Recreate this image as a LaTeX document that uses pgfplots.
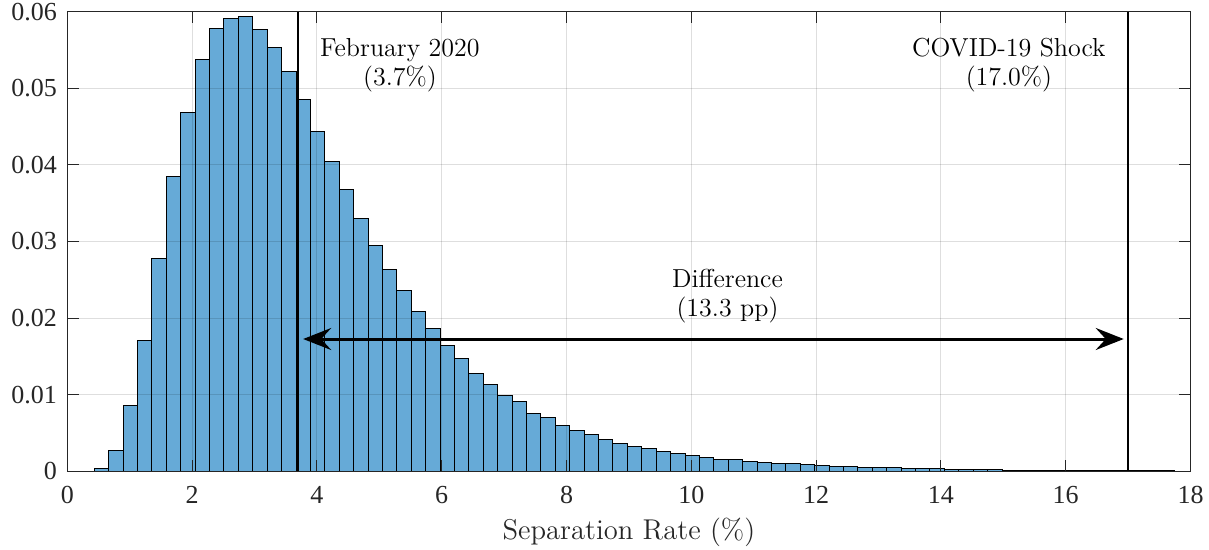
\documentclass[border=0pt]{standalone}
\usepackage{fontspec}
\usepackage{pgfplots}
\pgfplotsset{compat=1.18}
\usetikzlibrary{arrows.meta}
\newfontfamily\timesf{Liberation Serif}
\definecolor{barblue}{RGB}{102,170,215}
\definecolor{axgray}{RGB}{38,38,38}
\pgfplotstableread{
x y
0.202 0.00001
0.433 0.00043
0.664 0.00274
0.895 0.00853
1.126 0.0171
1.357 0.02776
1.588 0.03842
1.819 0.04678
2.050 0.05379
2.280 0.05778
2.511 0.05914
2.742 0.05935
2.973 0.05765
3.204 0.0553
3.435 0.05213
3.666 0.0486
3.897 0.04439
4.128 0.04042
4.359 0.03676
4.589 0.03298
4.820 0.0295
5.051 0.02628
5.282 0.02354
5.513 0.02089
5.744 0.01867
5.975 0.0164
6.206 0.01475
6.436 0.01283
6.667 0.01138
6.898 0.00987
7.129 0.00905
7.360 0.00761
7.591 0.0070
7.822 0.00595
8.053 0.00535
8.284 0.00474
8.515 0.00413
8.745 0.00369
8.976 0.0033
9.207 0.00295
9.438 0.00256
9.669 0.00226
9.900 0.00209
10.131 0.00183
10.362 0.00157
10.593 0.00148
10.824 0.0013
11.054 0.00117
11.285 0.001
11.516 0.00098
11.747 0.00086
11.978 0.00073
12.209 0.0006
12.440 0.00058
12.671 0.00055
12.902 0.00047
13.133 0.00046
13.363 0.00034
13.594 0.00032
13.825 0.0003
14.056 0.00028
14.287 0.00021
14.518 0.0002
14.749 0.00018
14.980 0.00016
15.211 0.00014
15.442 0.00013
15.672 0.00012
15.903 0.0001
16.134 0.00009
16.365 0.00008
16.596 0.00007
16.827 0.00006
17.058 0.00005
17.289 0.00005
17.520 0.00004
17.751 0.00003
17.982 0
}\histdata
\begin{document}
\begin{tikzpicture}
\useasboundingbox (-33.65pt,-39.35pt) rectangle (570.85pt,235.65pt);
\begin{axis}[
  scale only axis, width=561.6pt, height=229.8pt,
  xmin=0, xmax=18, ymin=0, ymax=0.06,
  xtick={0,2,4,6,8,10,12,14,16,18},
  xticklabels={0,2,4,6,8,10,12,14,16,18},
  ytick={0,0.01,0.02,0.03,0.04,0.05,0.06},
  yticklabels={0,0.01,0.02,0.03,0.04,0.05,0.06},
  tick align=inside, major tick length=5.6pt,
  grid=major,
  major grid style={draw=black, opacity=0.13, line width=0.5pt},
  axis line style={draw=axgray, line width=0.5pt},
  every tick/.style={draw=axgray, line width=0.5pt},
  tick label style={font=\timesf\fontsize{13}{15}\selectfont, text=axgray},
  yticklabel style={xshift=-1.7pt},
  xticklabel style={yshift=-4pt},
  xlabel={Separation Rate (\%)},
  xlabel style={font=\fontsize{14.3}{16}\selectfont, text=axgray},
  axis on top,
]
\addplot[ybar interval, fill=barblue, draw=black, line width=0.5pt] table[x=x,y=y] {\histdata};
\addplot[black, line width=1.3pt] coordinates {(3.7,0) (3.7,0.06)};
\addplot[black, line width=1.3pt] coordinates {(17.0,0) (17.0,0.06)};
\draw[{Stealth[length=14pt,width=11pt,inset=5pt]}-{Stealth[length=14pt,width=11pt,inset=5pt]}, line width=1.5pt]
  (axis cs:3.78,0.01727) -- (axis cs:16.93,0.01727);
\node[anchor=north, align=center, inner sep=0pt, font=\fontsize{13}{14.5}\selectfont] at (axis cs:5.33,0.05657) {February 2020\\(3.7\%)};
\node[anchor=north, align=center, inner sep=0pt, font=\fontsize{13}{14.5}\selectfont] at (axis cs:15.09,0.05657) {COVID-19 Shock\\(17.0\%)};
\node[anchor=north, align=center, inner sep=0pt, font=\fontsize{13}{14.5}\selectfont] at (axis cs:10.58,0.0265) {Difference\\(13.3 pp)};
\end{axis}
\end{tikzpicture}
\end{document}
